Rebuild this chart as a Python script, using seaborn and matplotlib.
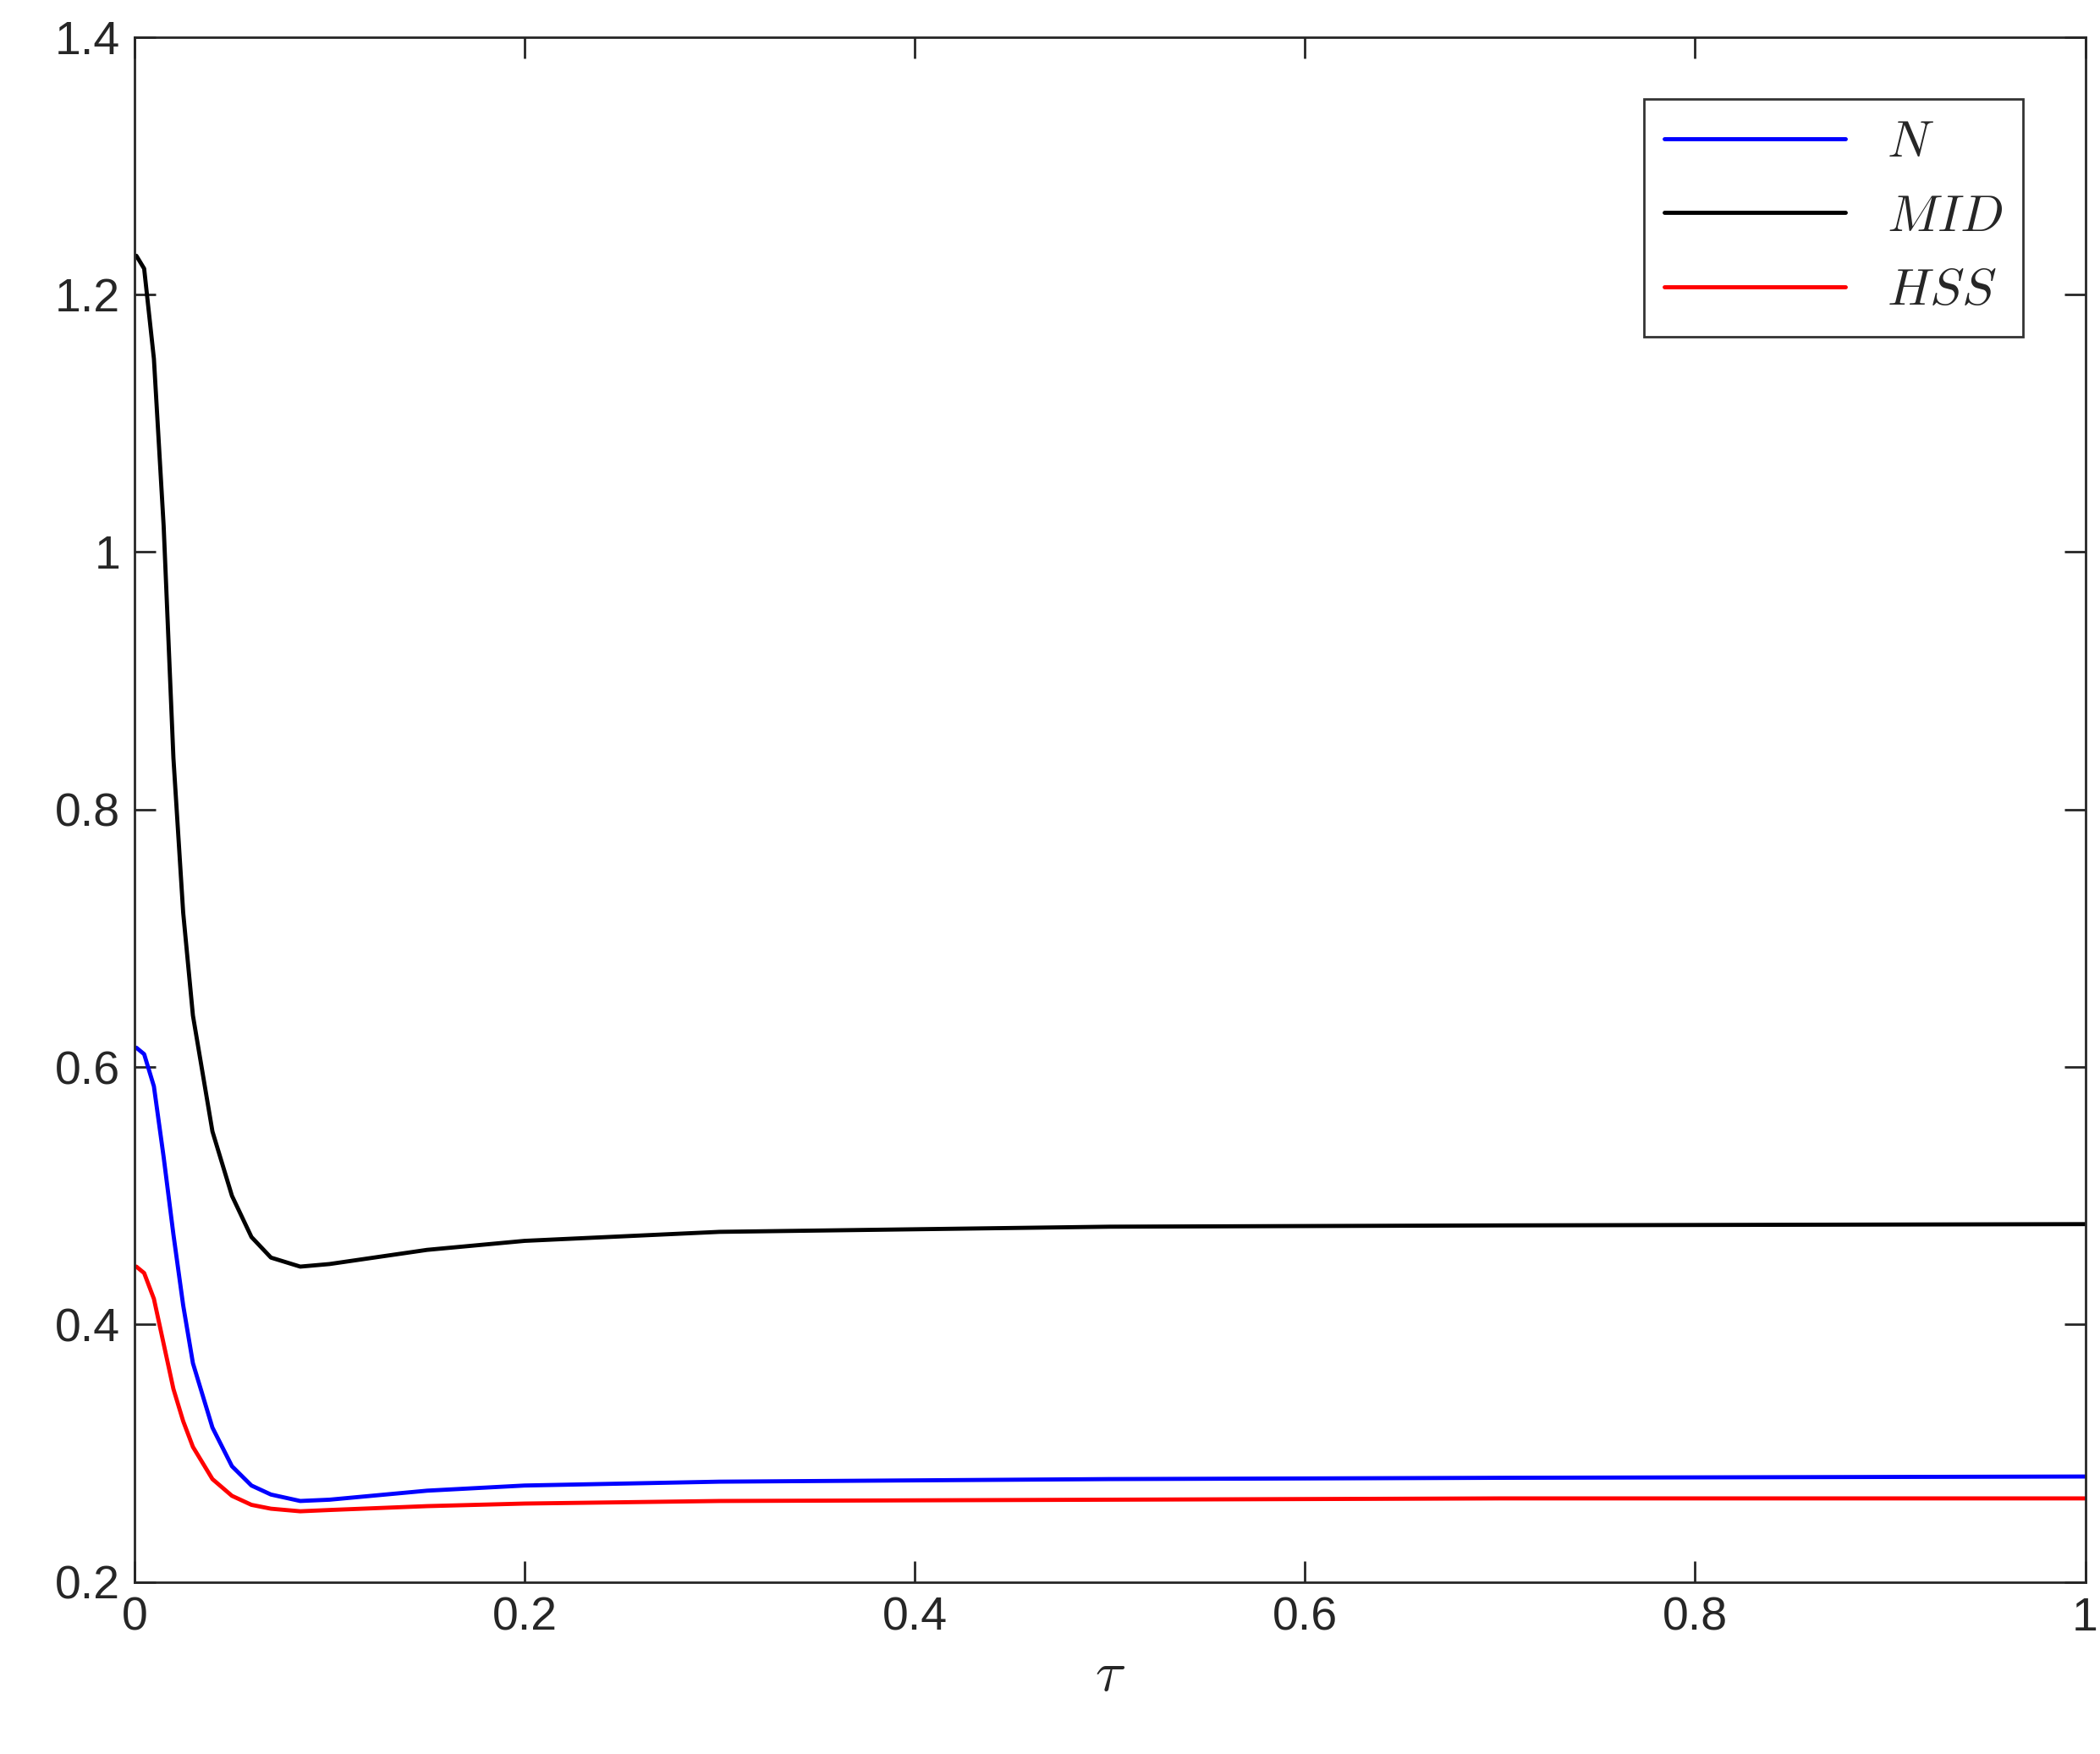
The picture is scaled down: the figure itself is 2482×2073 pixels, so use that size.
import matplotlib
matplotlib.use("Agg")
import pandas as pd
import seaborn as sns
import matplotlib.pyplot as plt

# values
tau = [0.001, 0.005, 0.01, 0.015, 0.02, 0.025, 0.03, 0.04, 0.05, 0.06, 0.07, 0.085,
       0.1, 0.15, 0.2, 0.3, 0.5, 0.7, 1.0]
mid = [1.23, 1.22, 1.15, 1.02, 0.84, 0.72, 0.64, 0.55, 0.50, 0.468, 0.452, 0.445,
       0.447, 0.458, 0.465, 0.472, 0.476, 0.477, 0.478]
n_vals = [0.615, 0.61, 0.585, 0.53, 0.47, 0.415, 0.37, 0.32, 0.29, 0.275, 0.268, 0.263,
          0.264, 0.271, 0.275, 0.278, 0.28, 0.281, 0.282]
hss = [0.445, 0.44, 0.42, 0.385, 0.35, 0.325, 0.305, 0.28, 0.267, 0.26, 0.257, 0.255,
       0.256, 0.259, 0.261, 0.263, 0.264, 0.265, 0.265]

sns.set_style("ticks")
plt.rcParams["font.family"] = ["Liberation Sans", "DejaVu Sans"]
plt.rcParams["mathtext.fontset"] = "cm"

fig = plt.figure(figsize=(24.82, 20.73), dpi=100)
ax = fig.add_axes([0.064, 0.098, 0.929, 0.881])

sns.lineplot(x=tau, y=n_vals, ax=ax, color="#0000ff", lw=3.5, label="$N$")
sns.lineplot(x=tau, y=mid, ax=ax, color="black", lw=3.5, label="$MID$")
sns.lineplot(x=tau, y=hss, ax=ax, color="#ff0000", lw=3.5, label="$HSS$")

ax.set_xlim(0, 1)
ax.set_ylim(0.2, 1.4)
ax.set_xticks([0, 0.2, 0.4, 0.6, 0.8, 1])
ax.set_xticklabels(["0", "0.2", "0.4", "0.6", "0.8", "1"])
ax.set_yticks([0.2, 0.4, 0.6, 0.8, 1.0, 1.2, 1.4])
ax.set_yticklabels(["0.2", "0.4", "0.6", "0.8", "1", "1.2", "1.4"])
ax.tick_params(direction="in", length=18, width=2, labelsize=40, top=True, right=True, pad=12)
for s in ax.spines.values():
    s.set_linewidth(2)
ax.set_xlabel(r"$\tau$", fontsize=48, labelpad=8)

leg = ax.legend(loc="upper right", fontsize=44, frameon=True, fancybox=False,
                edgecolor="black", handlelength=3.5, borderaxespad=1.2)
leg.get_frame().set_linewidth(2)

fig.savefig("out.png", dpi=100)
